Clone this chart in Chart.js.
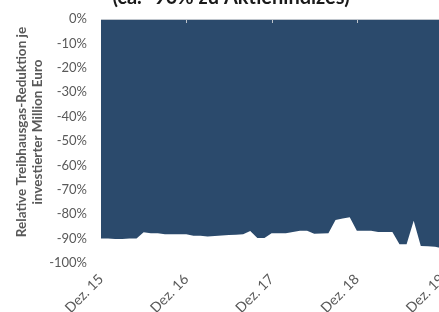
<!DOCTYPE html>
<html>
<head>
<meta charset="utf-8">
<script src="https://cdn.jsdelivr.net/npm/chart.js@4"></script>
<style>
html,body{margin:0;padding:0;overflow:hidden;width:439px;height:312px;background:#fff;}
#c{position:absolute;left:0;top:-14px;}
</style>
</head>
<body>
<canvas id="c" width="462" height="326"></canvas>
<script>
const TITLE = "(ca. -90% zu Aktienindizes)";
const Y_TITLE = ["Relative Treibhausgas-Reduktion je", "investierter Million Euro"];
const categories = ["Dez. 15",
 "Jan. 16","Feb. 16","Mrz. 16","Apr. 16","Mai 16","Jun. 16","Jul. 16","Aug. 16","Sep. 16","Okt. 16","Nov. 16","Dez. 16",
 "Jan. 17","Feb. 17","Mrz. 17","Apr. 17","Mai 17","Jun. 17","Jul. 17","Aug. 17","Sep. 17","Okt. 17","Nov. 17","Dez. 17",
 "Jan. 18","Feb. 18","Mrz. 18","Apr. 18","Mai 18","Jun. 18","Jul. 18","Aug. 18","Sep. 18","Okt. 18","Nov. 18","Dez. 18",
 "Jan. 19","Feb. 19","Mrz. 19","Apr. 19","Mai 19","Jun. 19","Jul. 19","Aug. 19","Sep. 19","Okt. 19","Nov. 19","Dez. 19"];
const reduction = [-90.0,
 -90.0,-90.2,-90.2,-90.0,-90.0,-87.4,-87.8,-87.8,-88.2,-88.2,-88.2,-88.2,
 -88.8,-88.8,-89.1,-88.9,-88.7,-88.5,-88.4,-88.2,-86.9,-89.8,-89.8,-87.8,
 -87.8,-87.8,-87.3,-86.8,-86.8,-88.0,-87.9,-87.8,-82.4,-81.8,-81.3,-86.8,
 -86.8,-86.8,-87.3,-87.3,-87.3,-92.3,-92.3,-82.7,-93.0,-93.1,-93.3,-94.0];
const yTicks = [0,-10,-20,-30,-40,-50,-60,-70,-80,-90,-100];

const FONT = "Lato, 'Open Sans', sans-serif";

const topTicks = {
  id:'topTicks',
  afterDatasetsDraw(chart){
    const {ctx, scales:{x,y}} = chart;
    const y0 = y.getPixelForValue(0);
    ctx.save();
    ctx.strokeStyle = '#bfc5cc';
    ctx.lineWidth = 1;
    ctx.beginPath();
    ctx.moveTo(x.left, y0+0.5); ctx.lineTo(x.right, y0+0.5);
    categories.forEach((c,i)=>{
      if (c.startsWith('Dez.') && i>0){
        const px = Math.round(x.getPixelForValue(i))+0.5;
        ctx.moveTo(px, y0); ctx.lineTo(px, y0+4);
      }
    });
    ctx.stroke();
    ctx.restore();
  }
};

const yTitle = {
  id:'yTitle',
  afterDraw(chart){
    const {ctx, chartArea} = chart;
    const cy = (chartArea.top + chartArea.bottom)/2 - 9;
    ctx.save();
    ctx.fillStyle = '#595959';
    ctx.font = "bold 13.5px " + FONT;
    ctx.textAlign = 'center';
    ctx.textBaseline = 'middle';
    Y_TITLE.forEach((t,i)=>{
      ctx.save();
      ctx.translate(22 + i*16, cy);
      ctx.rotate(-Math.PI/2);
      ctx.fillText(t, 0, 0);
      ctx.restore();
    });
    ctx.restore();
  }
};

new Chart(document.getElementById('c'), {
  type:'line',
  data:{
    labels: categories,
    datasets:[{
      data: reduction,
      fill: 'origin',
      backgroundColor:'#2b4a6c',
      borderWidth:0,
      pointRadius:0,
      tension:0
    }]
  },
  options:{
    responsive:false,
    animation:false,
    devicePixelRatio:1,
    layout:{padding:0},
    plugins:{
      legend:{display:false},
      tooltip:{enabled:false},
      title:{display:true,text:TITLE,color:'#1a1a1a',font:{family:FONT,size:20,weight:'bold'},padding:{top:0,bottom:9}}
    },
    scales:{
      x:{
        grid:{display:false,drawTicks:false},
        border:{display:false},
        ticks:{autoSkip:false,maxRotation:45,minRotation:45,padding:8,color:'#595959',
          font:{family:FONT,size:14},
          callback:(v,i)=> categories[i].startsWith('Dez.') ? categories[i] : ''},
        afterFit(s){ s.height = 49; }
      },
      y:{
        min:-100,max:0,
        grid:{display:false,drawTicks:false},
        border:{display:false},
        afterBuildTicks(s){ s.ticks = yTicks.map(v=>({value:v})); },
        ticks:{padding:14,color:'#595959',font:{family:FONT,size:13},callback:v=>v+'%'},
        afterFit(s){ s.width = 101; }
      }
    }
  },
  plugins:[topTicks, yTitle]
});
</script>
</body>
</html>
